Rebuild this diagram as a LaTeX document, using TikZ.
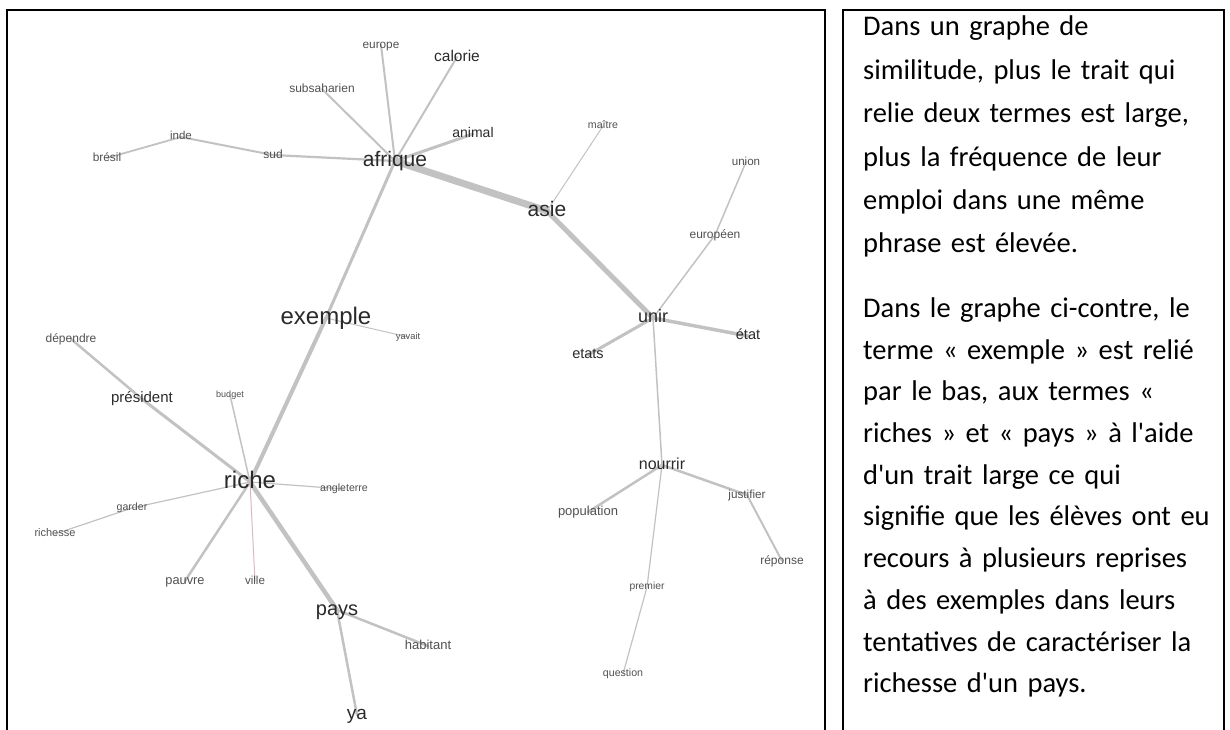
\documentclass[tikz,border=0pt]{standalone}
\usepackage{fontspec}
\setmainfont{Carlito}[Ligatures=TeXOff]
\newfontfamily\grfont{Liberation Sans}
\usetikzlibrary{backgrounds}
\definecolor{trait}{HTML}{C2C2C2}
\definecolor{traitrose}{HTML}{D9B8C0}
\definecolor{fort}{HTML}{2A2A2A}
\definecolor{faible}{HTML}{505050}
\tikzset{
  terme/.style={
    inner sep=0pt,
    font=\grfont\fontsize{#1}{#1}\selectfont,
    execute at begin node={\vphantom{dq}}
  },
  lien/.style={draw=trait, line width=#1, line cap=round},
  cadre/.style={draw=black, line width=1.7pt},
  note/.style={anchor=north west, inner sep=0pt, text width=390pt, align=left,
    font=\fontsize{28.5}{#1}\selectfont},
}

\begin{document}
\begin{tikzpicture}[x=1pt,y=-1pt]
  \useasboundingbox (0,0) rectangle (1230,729);
  % cadres
  \draw[cadre] (7,735) -- (7,10) -- (825,10) -- (825,735);
  \draw[cadre, line width=1.4pt] (843,735) -- (843,10) -- (1224,10) -- (1224,735);
  % termes du graphe
  \foreach \id/\txt/\x/\y/\sz/\c in {
    afrique/afrique/395/161/21/fort, asie/asie/547/211/21/fort,
    europe/europe/381/45/11.8/faible, calorie/calorie/457/57/15.5/fort,
    subsaharien/subsaharien/322/89/12/faible, animal/animal/473/134/14/fort,
    sud/sud/273/155/12/faible, inde/inde/181/137/11.5/faible,
    bresil/brésil/107/158/11.9/faible, maitre/maître/603/126/10.6/faible,
    union/union/746/162/11.6/faible, europeen/européen/715/235/12/faible,
    unir/unir/653/318/18/fort, etat/état/748/336/14.5/fort,
    etats/etats/588/355/14.5/fort, nourrir/nourrir/662/465/16/fort,
    justifier/justifier/747/495/11.7/faible, population/population/588/512/13/faible,
    reponse/réponse/782/561/12/faible, premier/premier/647/587/10.3/faible,
    question/question/623/674/10.6/faible, exemple/exemple/326/318/24/fort,
    yavait/yavait/408/337/9.3/faible, dependre/dépendre/71/339/12/faible,
    president/président/142/399/15/fort, budget/budget/230/395/9/faible,
    riche/riche/250/482/24/fort, angleterre/angleterre/344/489/10.6/faible,
    garder/garder/132/508/10.6/faible, richesse/richesse/55/534/11/faible,
    pauvre/pauvre/185/581/12.8/faible, ville/ville/255/581/11.6/faible,
    pays/pays/337/610/20/fort, habitant/habitant/428/646/13/faible,
    ya/ya/357/715/19/fort} {
    \node[terme=\sz, text=\c] (\id) at (\x,\y) {\txt};
  }
  % liens
  \begin{scope}[on background layer]
    \foreach \a/\b/\w in {
      afrique/asie/7pt, asie/unir/5pt, afrique/exemple/3pt, exemple/riche/4pt,
      riche/pays/4.5pt, afrique/europe/2pt, afrique/calorie/2pt,
      afrique/subsaharien/2pt, afrique/animal/3pt, afrique/sud/2.2pt,
      sud/inde/2pt, inde/bresil/1.8pt, asie/maitre/1pt, unir/europeen/1.5pt,
      europeen/union/1.5pt, unir/etat/3.5pt, unir/etats/3pt, unir/nourrir/1.5pt,
      nourrir/population/2.5pt, nourrir/justifier/2.5pt, justifier/reponse/2pt,
      nourrir/premier/1.2pt, premier/question/1.2pt, exemple/yavait/1pt,
      riche/president/3pt, president/dependre/2.5pt, riche/budget/1.5pt,
      riche/angleterre/1.2pt, riche/garder/1.2pt, garder/richesse/1.2pt,
      riche/pauvre/2.5pt, pays/habitant/2.5pt, pays/ya/2.5pt} {
      \draw[lien=\w] (\a.center) -- (\b.center);
    }
    \draw[lien=1pt, draw=traitrose] (riche.center) -- (ville.center);
  \end{scope}
  % texte explicatif
  \node[note=43.4pt] (texte) at (863,16) {Dans un graphe de\\
    similitude, plus le trait qui\\
    relie deux termes est large,\\
    plus la fréquence de leur\\
    emploi dans une même\\
    phrase est élevée.};
  \node[note=41.7pt] (suite) at (863,297.5) {Dans le graphe ci-contre, le\\
    terme « exemple » est relié\\
    par le bas, aux termes «\\
    riches » et « pays » à l'aide\\
    d'un trait large ce qui\\
    signifie que les élèves ont eu\\
    recours à plusieurs reprises\\
    à des exemples dans leurs\\
    tentatives de caractériser la\\
    richesse d'un pays.};
\end{tikzpicture}
\end{document}
